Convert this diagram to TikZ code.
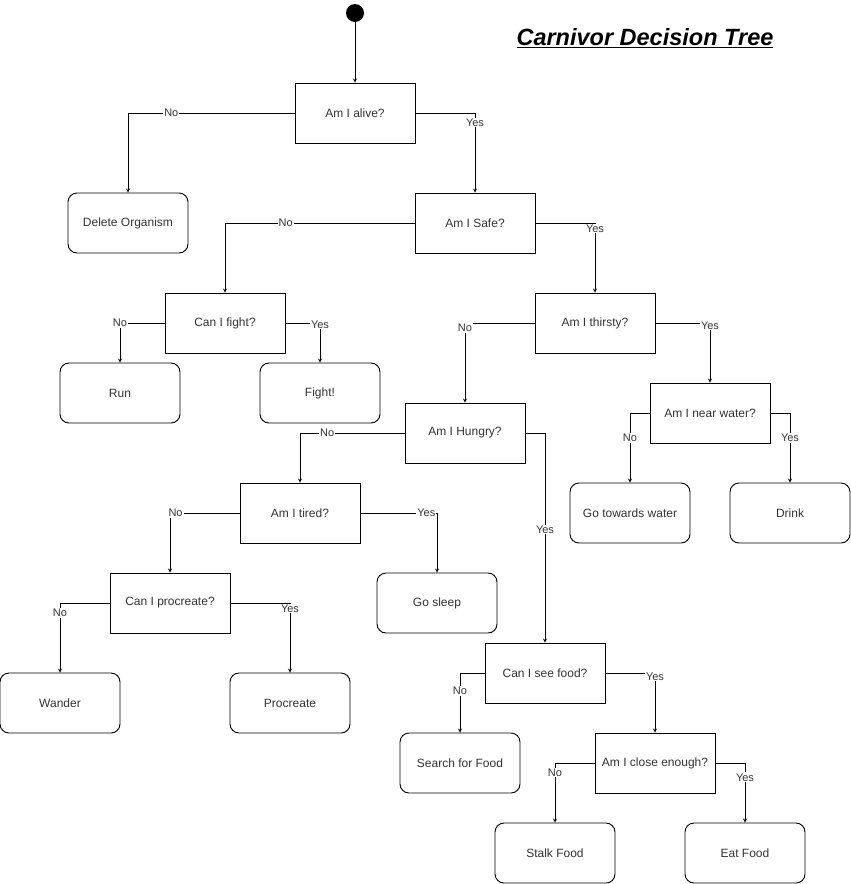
\documentclass[tikz,border=0pt]{standalone}
\usepackage{fontspec}
\setmainfont{Liberation Sans}
\begin{document}
\begin{tikzpicture}[x=1pt,y=-1pt,>=stealth,
 decision/.style={draw,line width=.9pt,minimum width=120pt,minimum height=60pt,
   inner sep=0pt,font=\fontsize{12}{14}\selectfont,text=black!80},
 outcome/.style={decision,rounded corners=9pt},
 answer/.style={fill=white,inner sep=1pt,font=\fontsize{11}{12}\selectfont,text=black!80}]
 \useasboundingbox (0,0) rectangle (851,884);
 % start and title
 \fill (355,13) circle (9) coordinate (start);
 \node (title) at (645,38)
   {\fontsize{23.5}{27}\selectfont\bfseries\itshape\underline{Carnivor Decision Tree}};
 % questions
 \node[decision] (alive) at (355,113) {Am I alive?};
 \node[decision] (safe) at (475,223) {Am I Safe?};
 \node[decision] (canfight) at (225,323) {Can I fight?};
 \node[decision] (thirsty) at (595,323) {Am I thirsty?};
 \node[decision] (hungry) at (465,433) {Am I Hungry?};
 \node[decision] (near) at (710,413) {Am I near water?};
 \node[decision] (tired) at (300,513) {Am I tired?};
 \node[decision] (canproc) at (170,603) {Can I procreate?};
 \node[decision] (see) at (545,673) {Can I see food?};
 \node[decision] (close) at (655,763) {Am I close enough?};
 % actions
 \node[outcome] (delete) at (128,223) {Delete Organism};
 \node[outcome] (run) at (120,393) {Run};
 \node[outcome] (fight) at (320,393) {Fight!};
 \node[outcome] (towards) at (630,513) {Go towards water};
 \node[outcome] (drink) at (790,513) {Drink};
 \node[outcome] (sleep) at (437,603) {Go sleep};
 \node[outcome] (wander) at (60,703) {Wander};
 \node[outcome] (proc) at (290,703) {Procreate};
 \node[outcome] (search) at (460,763) {Search for Food};
 \node[outcome] (stalk) at (555,853) {Stalk Food};
 \node[outcome] (eat) at (745,853) {Eat Food};
 % connectors
 \draw[->,line width=.8pt] ([yshift=-9pt]start) -- (alive.north);
 \foreach \a/\s/\b/\t/\p in {alive/west/delete/No/.37, alive/east/safe/Yes/.56,
   safe/west/canfight/No/.34, safe/east/thirsty/Yes/.54,
   canfight/west/run/No/.5, canfight/east/fight/Yes/.52,
   thirsty/west/hungry/No/.53, thirsty/east/near/Yes/.52,
   hungry/west/tired/No/.37, hungry/east/see/Yes/.73,
   near/west/towards/No/.68, near/east/drink/Yes/.68,
   tired/west/canproc/No/.46, tired/east/sleep/Yes/.43,
   canproc/west/wander/No/.57, canproc/east/proc/Yes/.54,
   see/west/search/No/.65, see/east/close/Yes/.53,
   close/west/stalk/No/.58, close/east/eat/Yes/.62}
   \draw[->,line width=.8pt] (\a.\s) -| node[answer,pos=\p] {\t} (\b.north);
\end{tikzpicture}
\end{document}
